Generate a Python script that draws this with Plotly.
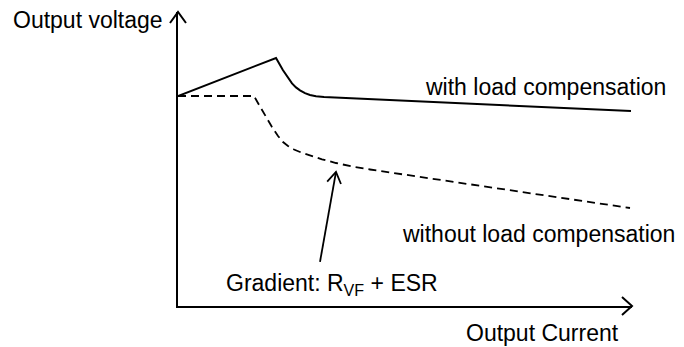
import plotly.graph_objects as go

# Output voltage vs. output current (arbitrary units, 0..100 on both axes)
with_comp_current = [0, 21.59, 23.13, 24.23, 25.11, 25.99, 26.87, 27.97, 29.07,
                     30.40, 32.16, 99.78]
with_comp_voltage = [71.43, 84.35, 80.20, 77.48, 75.71, 74.35, 73.33, 72.38, 71.77,
                     71.36, 71.09, 66.33]

without_comp_current = [0, 16.74, 18.06, 19.38, 20.70, 22.03, 23.13, 24.23, 25.55,
                        26.87, 29.07, 31.72, 34.80, 38.33, 42.29, 99.56]
without_comp_voltage = [71.43, 71.43, 67.86, 64.29, 60.88, 57.82, 55.78, 54.42, 53.23,
                        52.38, 51.19, 49.90, 48.64, 47.45, 46.43, 33.33]

# point just below the dashed curve that the gradient callout points to
gradient_point = (34.8, 45.6)
gradient_label_pos = (34.0, 7.2)

W, H = 684, 347
M = dict(l=178, r=52, t=12, b=41)
PW = W - M["l"] - M["r"]
PH = H - M["t"] - M["b"]
X_RANGE = [0, 100]
Y_RANGE = [0, 100]

FONT = "Liberation Sans, Arial, sans-serif"
FS = 23

fig = go.Figure()
fig.add_trace(go.Scatter(
    x=with_comp_current, y=with_comp_voltage, mode="lines",
    line=dict(color="black", width=2),
    hoverinfo="skip", showlegend=False))
fig.add_trace(go.Scatter(
    x=without_comp_current, y=without_comp_voltage, mode="lines",
    line=dict(color="black", width=1.8, dash="8px,5px"),
    hoverinfo="skip", showlegend=False))


def data_to_px(x, y):
    return ((x - X_RANGE[0]) / (X_RANGE[1] - X_RANGE[0]) * PW,
            (y - Y_RANGE[0]) / (Y_RANGE[1] - Y_RANGE[0]) * PH)


def py_paper(py):
    # pixel row (from top of page) -> paper y
    return (H - M["b"] - py) / PH


def px_paper(px):
    return (px - M["l"]) / PW


shapes = []
# open V arrowheads at the axis ends
ax_w, ax_l = 8 / PW, 11 / PH
shapes.append(dict(type="path", xref="paper", yref="paper",
                   path=f"M {-ax_w} {1 - ax_l} L 0 1 L {ax_w} {1 - ax_l}",
                   line=dict(color="black", width=2)))
xx_l, xx_w = 10 / PW, 9 / PH
shapes.append(dict(type="path", xref="paper", yref="paper",
                   path=f"M {1 - xx_l} {xx_w} L 1 0 L {1 - xx_l} {-xx_w}",
                   line=dict(color="black", width=2)))

# gradient callout: line from label to curve with an open V head
tx, ty = data_to_px(*gradient_point)
sx, sy = tx - 16, ty - 90
dx, dy = tx - sx, ty - sy
ln = (dx * dx + dy * dy) ** 0.5
ux, uy = dx / ln, dy / ln
hl, hw = 11, 7
w1 = (tx - ux * hl - uy * hw, ty - uy * hl + ux * hw)
w2 = (tx - ux * hl + uy * hw, ty - uy * hl - ux * hw)
pts = [(sx, sy), (tx, ty), w1, w2]
pp = [(p[0] / PW, p[1] / PH) for p in pts]
shapes.append(dict(type="path", xref="paper", yref="paper",
                   path=f"M {pp[0][0]} {pp[0][1]} L {pp[1][0]} {pp[1][1]}",
                   line=dict(color="black", width=1.8)))
shapes.append(dict(type="path", xref="paper", yref="paper",
                   path=f"M {pp[2][0]} {pp[2][1]} L {pp[1][0]} {pp[1][1]} L {pp[3][0]} {pp[3][1]}",
                   line=dict(color="black", width=1.8)))

annotations = [
    dict(text="Output voltage", xref="paper", yref="paper",
         x=px_paper(165), y=py_paper(20), xanchor="right", yanchor="middle",
         showarrow=False),
    dict(text="with load compensation", xref="paper", yref="paper",
         x=px_paper(668), y=py_paper(87),
         xanchor="right", yanchor="middle", showarrow=False),
    dict(text="without load compensation", xref="paper", yref="paper",
         x=px_paper(677), y=py_paper(234),
         xanchor="right", yanchor="middle", showarrow=False),
    dict(text="Output Current", xref="paper", yref="paper",
         x=px_paper(621), y=py_paper(333),
         xanchor="right", yanchor="middle", showarrow=False),
    dict(text="Gradient: R<sub>VF</sub> + ESR", xref="x", yref="y",
         x=gradient_label_pos[0], y=gradient_label_pos[1],
         xanchor="center", yanchor="middle", showarrow=False),
]

fig.update_layout(
    width=W, height=H, margin=M,
    paper_bgcolor="white", plot_bgcolor="white",
    font=dict(family=FONT, size=FS, color="black"),
    shapes=shapes, annotations=annotations,
    xaxis=dict(range=X_RANGE, showgrid=False, zeroline=False, showticklabels=False,
               ticks="", showline=True, linecolor="black", linewidth=2,
               fixedrange=True),
    yaxis=dict(range=Y_RANGE, showgrid=False, zeroline=False, showticklabels=False,
               ticks="", showline=True, linecolor="black", linewidth=2,
               fixedrange=True),
)

fig.write_html("out.html", config=dict(displayModeBar=False))
